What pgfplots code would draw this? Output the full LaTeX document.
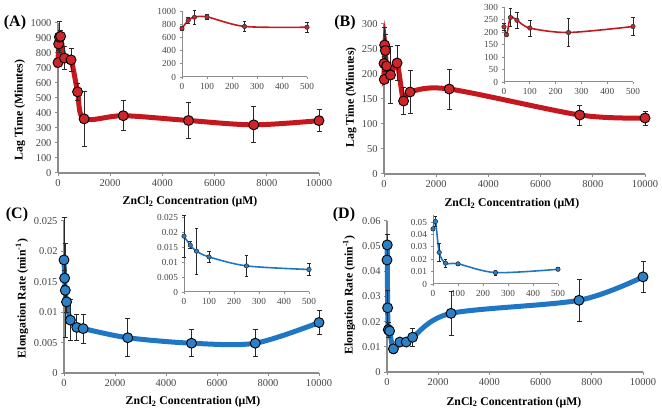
\documentclass[border=0pt]{standalone}
\usepackage{pgfplots}
\pgfplotsset{compat=1.18}
\usepackage{pgfplotstable}
\usepackage{fontspec}
\setmainfont{Liberation Serif}
\definecolor{redline}{RGB}{196,24,30}
\definecolor{redfill}{RGB}{206,36,42}
\definecolor{blueline}{RGB}{30,118,196}
\definecolor{bluefill}{RGB}{44,128,198}
\definecolor{axgray}{RGB}{140,140,140}
\definecolor{tickgray}{RGB}{70,70,70}
\definecolor{errc}{RGB}{40,40,40}

\pgfplotstableread{
x y e
0 736 25
25 860 45
50 906 105
100 911 38
250 766 75
500 754 78
750 541 55
1000 361 183
2500 382 100
5000 350 120
7500 321 120
10000 349 73
}\dataA
\pgfplotstableread{
x y e
0 221 15
10 189 8
25 258 35
50 247 32
100 216 32
250 198 57
500 222 35
750 146 27
1000 164 43
2500 170 40
7500 118 20
10000 112 14
}\dataB
\pgfplotstableread{
x y e
0 0.0186 0.0070
25 0.0156 0.0012
50 0.0136 0.0077
100 0.0117 0.0017
250 0.0087 0.0034
500 0.0075 0.0021
750 0.0073 0.0024
2500 0.0058 0.0031
5000 0.0049 0.0022
7500 0.0049 0.0022
10000 0.0083 0.0020
}\dataC
\pgfplotstableread{
x y e
0 0.0445 0.0010
10 0.0505 0.0042
25 0.0255 0.0070
50 0.0168 0.0030
100 0.0163 0.0010
250 0.0092 0.0018
500 0.0119 0.0012
750 0.0119 0.0010
1000 0.0138 0.0036
2500 0.0233 0.0089
7500 0.0285 0.0083
10000 0.0378 0.0062
}\dataD

\pgfplotsset{
  base/.style={scale only axis, anchor=south west, axis lines=left,
    axis line style={-, axgray, line width=1.4bp},
    tick style={axgray, line width=1bp}, tick align=outside, major tick length=3bp,
    clip=false, scaled ticks=false,
    ticklabel style={font=\fontsize{10.5}{11}\selectfont, text=tickgray},
    /pgf/number format/assume math mode=true,
    /pgf/number format/1000 sep={},
    yticklabel style={/pgf/number format/fixed, /pgf/number format/precision=3},
    xmin=0, xmax=10000, xtick={0,2000,4000,6000,8000,10000}, ymin=0,
    label style={font=\bfseries\fontsize{11.8}{13}\selectfont, text=black, anchor=center},
    xlabel={ZnCl\textsubscript{2} Concentration (μM)}},
  inset/.style={scale only axis, anchor=south west, axis lines=left,
    axis line style={-, axgray, line width=1bp},
    tick style={axgray, line width=0.8bp}, tick align=outside, major tick length=2.5bp,
    clip=false, scaled ticks=false,
    ticklabel style={font=\fontsize{9.3}{10}\selectfont, text=tickgray},
    /pgf/number format/assume math mode=true,
    /pgf/number format/1000 sep={},
    yticklabel style={/pgf/number format/fixed, /pgf/number format/precision=3},
    xmin=0, xmax=500, xtick={0,100,200,300,400,500}, ymin=0,
    restrict x to domain=0:500},
  mainline/.style={line width=5bp, smooth, tension=0.5, no marks},
  insetline/.style={line width=1.6bp, smooth, tension=0.5, no marks},
  mainpts/.style={only marks, mark=*, mark size=5bp,
    mark options={fill=#1, draw=black, line width=0.9bp},
    error bars/.cd, y dir=both, y explicit,
    error bar style={errc, line width=0.8bp},
    error mark options={rotate=90, errc, mark size=2.5bp, line width=0.8bp}},
  insetpts/.style={only marks, mark=*, mark size=2.2bp,
    mark options={fill=#1, draw=black!80, line width=0.6bp},
    error bars/.cd, y dir=both, y explicit,
    error bar style={errc, line width=0.6bp},
    error mark options={rotate=90, errc, mark size=1.8bp, line width=0.6bp}},
}

\begin{document}
\begin{tikzpicture}
\path[use as bounding box] (0,0) rectangle (662bp,412bp);

% (A) main
\begin{axis}[base, at={(58bp,239bp)}, width=261bp, height=150bp,
  ymax=1000, ytick={0,100,...,1000},
  ylabel={Lag Time (Minutes)},
  xlabel style={at={(axis description cs:0.506,-0.193)}},
  ylabel style={at={(axis description cs:-0.146,0.42)}}]
\addplot[redline, mainline] table[x=x,y=y] {\dataA};
\addplot[mainpts=redfill] table[x=x,y=y,y error=e] {\dataA};
\end{axis}
% (A) inset
\begin{axis}[inset, at={(182bp,335bp)}, width=125bp, height=66bp,
  ymax=1000, ytick={0,200,...,1000}]
\addplot[redline, insetline] table[x=x,y=y] {\dataA};
\addplot[insetpts=redfill] table[x=x,y=y,y error=e] {\dataA};
\end{axis}

% (B) main
\begin{axis}[base, at={(384bp,238bp)}, width=261bp, height=150bp,
  ymax=300, ytick={0,50,...,300},
  ylabel={Lag Time (Minutes)},
  xlabel style={at={(axis description cs:0.49,-0.2)}},
  ylabel style={at={(axis description cs:-0.126,0.51)}}]
\addplot[redline, mainline] table[x=x,y=y] {\dataB};
\addplot[mainpts=redfill] table[x=x,y=y,y error=e] {\dataB};
\end{axis}
% (B) inset
\begin{axis}[inset, at={(504bp,330bp)}, width=129bp, height=75bp,
  ymax=300, ytick={0,50,...,300}]
\addplot[redline, insetline] table[x=x,y=y] {\dataB};
\addplot[insetpts=redfill] table[x=x,y=y,y error=e] {\dataB};
\end{axis}

% (C) main
\begin{axis}[base, at={(64bp,39bp)}, width=255bp, height=152bp,
  ymax=0.025, ytick={0,0.005,0.01,0.015,0.02,0.025},
  ylabel={Elongation Rate (min\textsuperscript{-1})},
  xlabel style={at={(axis description cs:0.506,-0.19)}},
  ylabel style={at={(axis description cs:-0.165,0.49)}}]
\addplot[blueline, mainline] table[x=x,y=y] {\dataC};
\addplot[mainpts=bluefill] table[x=x,y=y,y error=e] {\dataC};
\end{axis}
% (C) inset
\begin{axis}[inset, at={(184bp,120bp)}, width=125bp, height=75bp,
  ymax=0.025, ytick={0,0.005,0.01,0.015,0.02,0.025}]
\addplot[blueline, insetline] table[x=x,y=y] {\dataC};
\addplot[insetpts=bluefill] table[x=x,y=y,y error=e] {\dataC};
\end{axis}

% (D) main
\begin{axis}[base, at={(387bp,40bp)}, width=256bp, height=151bp,
  ymax=0.06, ytick={0,0.01,0.02,0.03,0.04,0.05,0.06},
  ylabel={Elongation Rate (min\textsuperscript{-1})},
  xlabel style={at={(axis description cs:0.496,-0.2)}},
  ylabel style={at={(axis description cs:-0.148,0.51)}}]
\addplot[blueline, mainline] table[x=x,y=y] {\dataD};
\addplot[mainpts=bluefill] table[x=x,y=y,y error=e] {\dataD};
\end{axis}
% (D) inset
\begin{axis}[inset, at={(433bp,128bp)}, width=125bp, height=69bp,
  ymax=0.0557, ytick={0,0.01,0.02,0.03,0.04,0.05}]
\addplot[blueline, insetline] table[x=x,y=y] {\dataD};
\addplot[insetpts=bluefill] table[x=x,y=y,y error=e] {\dataD};
\end{axis}

\node[font=\bfseries\fontsize{16}{18}\selectfont] at (15bp,389bp) {(A)};
\node[font=\bfseries\fontsize{16}{18}\selectfont] at (345bp,389bp) {(B)};
\node[font=\bfseries\fontsize{16}{18}\selectfont] at (17bp,197bp) {(C)};
\node[font=\bfseries\fontsize{16}{18}\selectfont] at (344bp,197bp) {(D)};
\end{tikzpicture}
\end{document}
